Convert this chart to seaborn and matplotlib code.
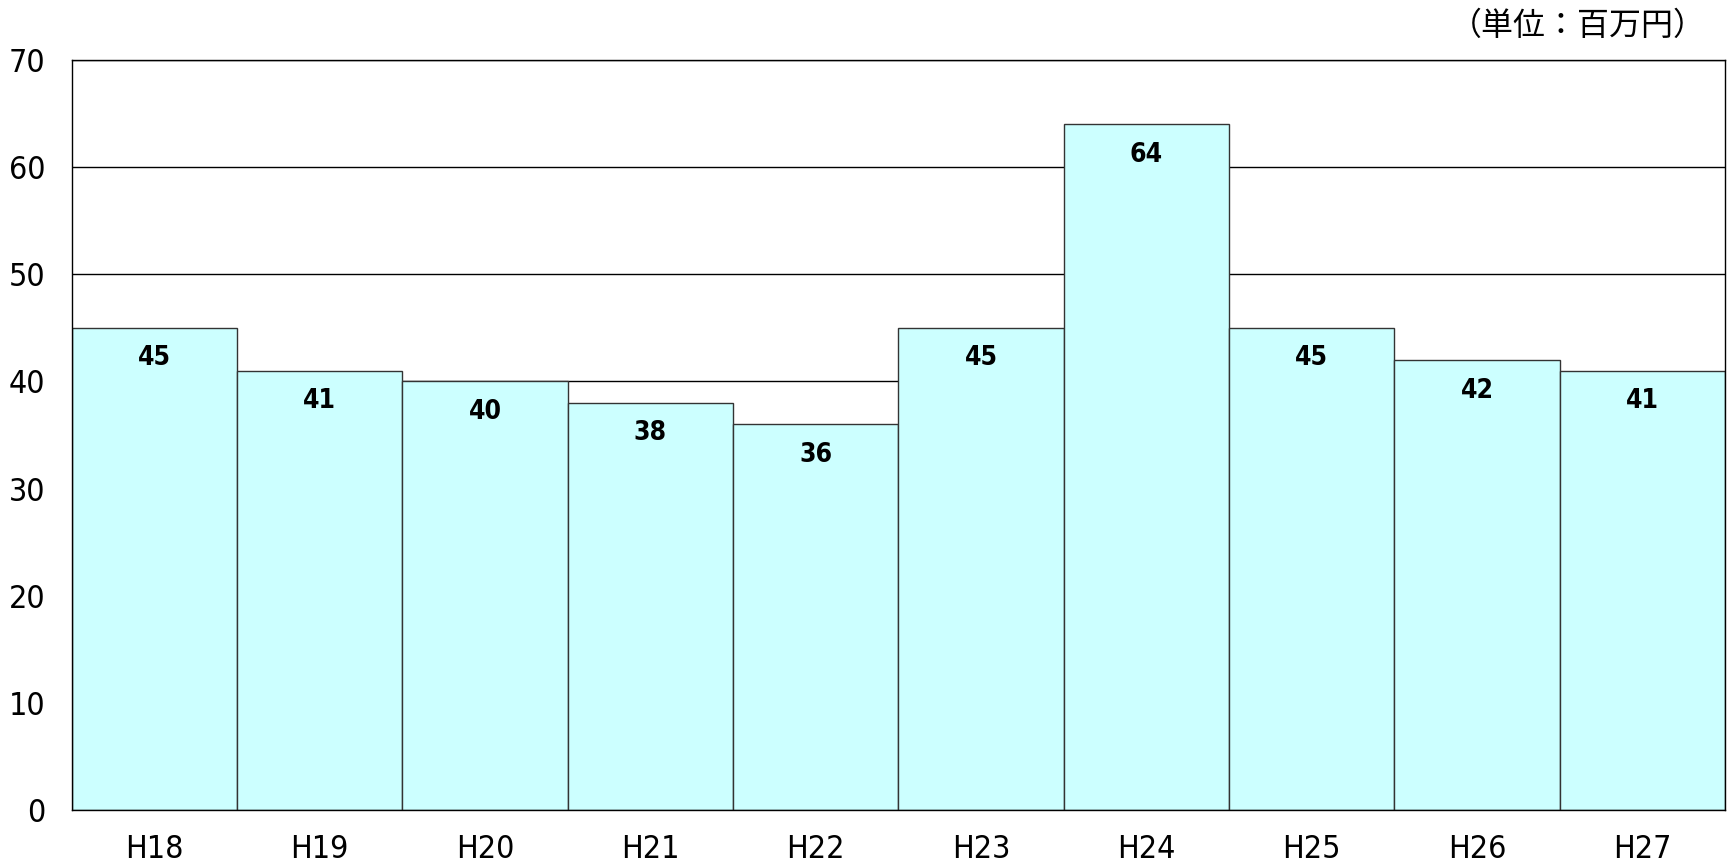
import matplotlib
matplotlib.use('Agg')
import matplotlib.pyplot as plt
import seaborn as sns
import pandas as pd

years = ['H18', 'H19', 'H20', 'H21', 'H22', 'H23', 'H24', 'H25', 'H26', 'H27']
values = [45, 41, 40, 38, 36, 45, 64, 45, 42, 41]
unit_label = '（単位：百万円）'

sns.set_style('white')
plt.rcParams['font.family'] = ['DejaVu Sans', 'Noto Sans CJK JP']
plt.rcParams['font.stretch'] = 'condensed'
plt.rcParams['text.color'] = 'black'
plt.rcParams['xtick.color'] = 'black'
plt.rcParams['ytick.color'] = 'black'

df = pd.DataFrame({'year': years, 'value': values})

fig = plt.figure(figsize=(17.28, 8.63), dpi=100)
ax = fig.add_axes([0.0414, 0.0614, 0.957, 0.869])

ax.yaxis.grid(True, color='black', linewidth=1)
ax.set_axisbelow(True)

sns.barplot(data=df, x='year', y='value', color='#CCFFFF', saturation=1,
            width=1.0, edgecolor='#333333', linewidth=1, ax=ax)

for i, v in enumerate(values):
    ax.annotate(str(v), (i, v), xytext=(0, -22), textcoords='offset points',
                ha='center', va='center', fontsize=19, fontweight='bold',
                color='black')

ax.set_ylim(0, 70)
ax.set_xlim(-0.5, len(years) - 0.5)
ax.set_yticks(range(0, 71, 10))
ax.set_xlabel('')
ax.set_ylabel('')
ax.tick_params(axis='both', length=0, labelsize=23)
ax.tick_params(axis='y', pad=19)
ax.tick_params(axis='x', pad=17)
for s in ax.spines.values():
    s.set_visible(True)
    s.set_color('black')
    s.set_linewidth(1)

fig.text(0.987, 0.970, unit_label, ha='right', va='center', fontsize=23,
         family=['Noto Sans CJK JP', 'DejaVu Sans'])

plt.savefig('out.png', dpi=100)
plt.close(fig)
